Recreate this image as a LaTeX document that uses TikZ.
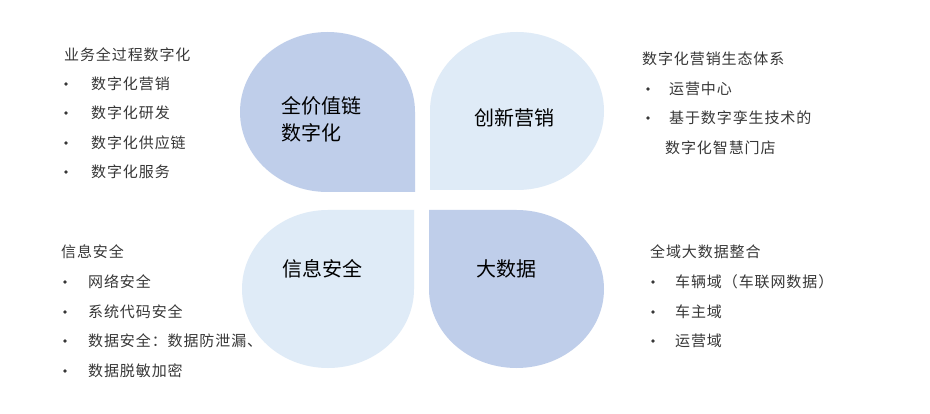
\documentclass[tikz,border=0pt]{standalone}
\usepackage{fontspec}
\setmainfont{Noto Sans CJK SC}
\newfontfamily\sidefont[LetterSpace=6]{Noto Sans CJK SC}
\definecolor{petaldark}{RGB}{191,206,234}
\definecolor{petallight}{RGB}{223,235,247}
\definecolor{sidegray}{RGB}{55,55,55}
\begin{document}
\begin{tikzpicture}[x=1pt,y=1pt,
  petaltext/.style={font=\fontsize{20}{27}\selectfont, text=black, inner sep=0pt, align=left},
  sidetext/.style={font=\sidefont\fontsize{15}{18}\selectfont, text=sidegray, anchor=west, inner sep=0pt},
  bul/.style={circle, fill=sidegray, inner sep=0pt, minimum size=3.6pt}]
\useasboundingbox (0,0) rectangle (930,413);
\fill[white] (0,0) rectangle (930,413);
% petals
\fill[petaldark] (415,301) arc[start angle=0, end angle=270, x radius=87.5, y radius=80] -- (415,221) -- cycle;
\fill[petallight] (430,223) -- (430,302) arc[start angle=180, end angle=-90, x radius=87, y radius=79] -- cycle;
\fill[petallight] (328,203) arc[start angle=90, end angle=360, x radius=86, y radius=79] -- (414,203) -- cycle;
\fill[petaldark] (429,203) -- (429,124) arc[start angle=180, end angle=450, x radius=87.5, y radius=79] -- cycle;
% petal texts
\node[petaltext, anchor=west] (p1) at (281,294) {全价值链\\数字化};
\node[petaltext] (p2) at (514.5,295.5) {创新营销};
\node[petaltext] (p3) at (322.5,144) {信息安全};
\node[petaltext] (p4) at (506.5,144) {大数据};
% left top
\node[sidetext] (lt0) at (64,358) {业务全过程数字化};
\node[bul] (lb1) at (66,329) {}; \node[sidetext] (lt1) at (91,329) {数字化营销};
\node[bul] (lb2) at (66,300) {}; \node[sidetext] (lt2) at (91,300) {数字化研发};
\node[bul] (lb3) at (66,270) {}; \node[sidetext] (lt3) at (91,270) {数字化供应链};
\node[bul] (lb4) at (66,241) {}; \node[sidetext] (lt4) at (91,241) {数字化服务};
% left bottom
\node[sidetext] (bt0) at (61,161) {信息安全};
\node[bul] (bb1) at (65,131) {}; \node[sidetext] (bt1) at (88,131) {网络安全};
\node[bul] (bb2) at (65,101) {}; \node[sidetext] (bt2) at (88,101) {系统代码安全};
\node[bul] (bb3) at (65,72) {}; \node[sidetext] (bt3) at (88,72) {数据安全：数据防泄漏、};
\node[bul] (bb4) at (65,42) {}; \node[sidetext] (bt4) at (88,42) {数据脱敏加密};
% right top
\node[sidetext] (rt0) at (642,354) {数字化营销生态体系};
\node[bul] (rb1) at (648,324) {}; \node[sidetext] (rt1) at (669,324) {运营中心};
\node[bul] (rb2) at (648,295) {}; \node[sidetext] (rt2) at (669,295) {基于数字孪生技术的};
\node[sidetext] (rt3) at (665,265) {数字化智慧门店};
% right bottom
\node[sidetext] (st0) at (650,161) {全域大数据整合};
\node[bul] (sb1) at (653,131) {}; \node[sidetext] (st1) at (675,131) {车辆域（车联网数据）};
\node[bul] (sb2) at (653,101) {}; \node[sidetext] (st2) at (675,101) {车主域};
\node[bul] (sb3) at (653,72) {}; \node[sidetext] (st3) at (675,72) {运营域};
\end{tikzpicture}
\end{document}
